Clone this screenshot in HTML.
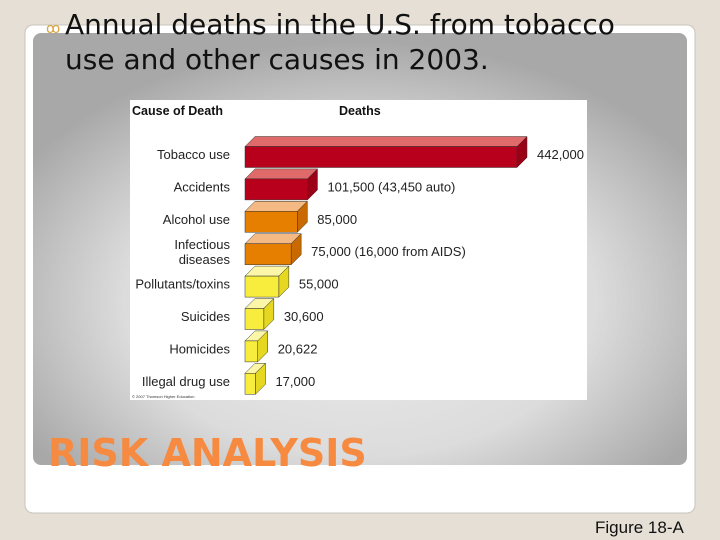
<!DOCTYPE html>
<html><head><meta charset="utf-8"><style>
html,body{margin:0;padding:0;background:#e5dfd5;}
svg{display:block}
</style></head><body>
<svg width="720" height="540" viewBox="0 0 720 540" xmlns="http://www.w3.org/2000/svg">
<defs>
<radialGradient id="pg" cx="0.5" cy="0.62" r="0.6">
<stop offset="0" stop-color="#ececec"/><stop offset="0.6" stop-color="#dcdcdc"/><stop offset="1" stop-color="#a8a8a8"/>
</radialGradient>
</defs>
<rect x="0" y="0" width="720" height="540" fill="#e5dfd5"/>
<rect x="25" y="25" width="670" height="488" rx="8" fill="#ffffff" stroke="#c9c4bc"/>
<rect x="33" y="33" width="654" height="432" rx="8" fill="url(#pg)"/>
<text x="46" y="33" font-family="DejaVu Sans, sans-serif" font-size="14" fill="#d9a441">ꝏ</text>
<text font-family="DejaVu Sans, sans-serif" font-size="28" fill="#111"><tspan x="65" y="34">Annual deaths in the U.S. from tobacco</tspan><tspan x="65" y="69">use and other causes in 2003.</tspan></text>
<rect x="130" y="100" width="457" height="300" fill="#ffffff"/>
<text x="132" y="115" font-family="Liberation Sans, sans-serif" font-size="12.5" font-weight="bold" fill="#111">Cause of Death</text>
<text x="339" y="115" font-family="Liberation Sans, sans-serif" font-size="12.5" font-weight="bold" fill="#111">Deaths</text>
<g id="bars"></g>
<text x="132" y="398" font-family="Liberation Sans, sans-serif" font-size="4" fill="#333">© 2007 Thomson Higher Education</text>
<text x="48" y="466" font-family="DejaVu Sans, sans-serif" font-size="38" font-weight="bold" fill="#f58a40">RISK ANALYSIS</text>
<text x="595" y="533" font-family="Liberation Sans, sans-serif" font-size="17" fill="#111">Figure 18-A</text>
</svg>
<script>
const categories = ["Tobacco use","Accidents","Alcohol use","Infectious|diseases","Pollutants/toxins","Suicides","Homicides","Illegal drug use"];
const deaths = [442000,101500,85000,75000,55000,30600,20622,17000];
const valueLabels = ["442,000","101,500 (43,450 auto)","85,000","75,000 (16,000 from AIDS)","55,000","30,600","20,622","17,000"];
const colorGroups = ["red","red","orange","orange","yellow","yellow","yellow","yellow"];
const palette = {red:["#b8001c","#e06a6a","#9a0016"],orange:["#e67e00","#f5ba84","#c86a00"],yellow:["#f8ec3c","#fcf7a8","#e6d820"]};
const NS="http://www.w3.org/2000/svg";
const g=document.getElementById('bars');
const x0=245, xScale=v=>v*272/442000, rowY=i=>155+i*32.4, d=10, h=21;
function mk(t,a){const e=document.createElementNS(NS,t);for(const k in a)e.setAttribute(k,a[k]);g.appendChild(e);return e;}
categories.forEach((c,i)=>{
  const w=xScale(deaths[i]), cy=rowY(i), top=cy-h/2+2, p=palette[colorGroups[i]];
  const tp=mk('polygon',{points:`${x0},${top} ${x0+d},${top-d} ${x0+w+d},${top-d} ${x0+w},${top}`,fill:p[1],stroke:'#333','stroke-width':0.5});
  
  
  const sd=mk('polygon',{points:`${x0+w},${top} ${x0+w+d},${top-d} ${x0+w+d},${top+h-d} ${x0+w},${top+h}`,fill:p[2],stroke:'#333','stroke-width':0.5});
  
  
  const fr=mk('rect',{x:x0,y:top,width:w,height:h,fill:p[0],stroke:'#333','stroke-width':0.5});
  
  
  const parts=c.split('|');
  const lb=mk('text',{x:230,'text-anchor':'end','font-family':'Liberation Sans, sans-serif','font-size':13,fill:'#222'});
  
  
  parts.forEach((s,j)=>{const t=document.createElementNS(NS,'tspan');t.setAttribute('x',230);t.setAttribute('y',parts.length>1?cy-3+j*15:cy+4);t.textContent=s;lb.appendChild(t);});
  const vl=mk('text',{x:x0+w+d+10,y:cy+4,'font-family':'Liberation Sans, sans-serif','font-size':13,fill:'#222'});
  vl.textContent=valueLabels[i];
  
  
});
</script>
</body></html>
